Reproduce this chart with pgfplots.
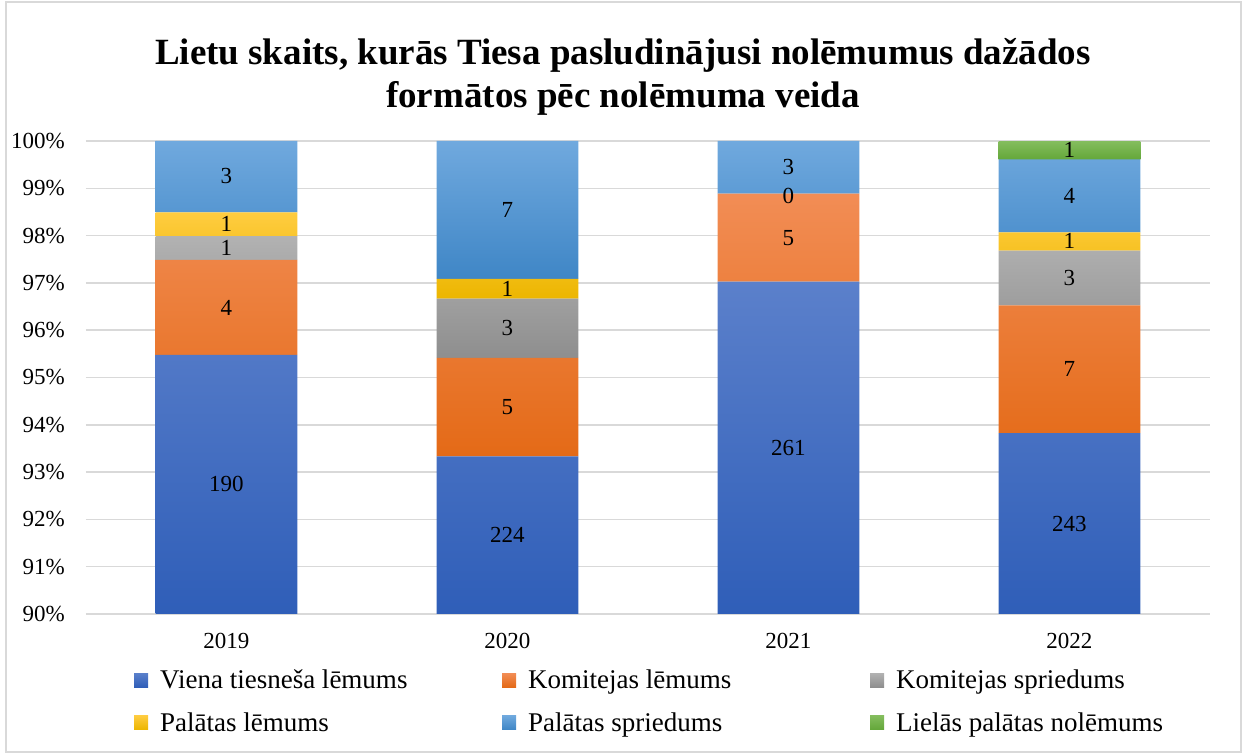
\documentclass[border=0pt]{standalone}
\usepackage{pgfplots}
\pgfplotsset{compat=1.18}
\usepackage{pgfplotstable}
\usepackage{fontspec}
\setmainfont{Liberation Serif}

\definecolor{bluetop}{HTML}{5B80CB}
\definecolor{bluebot}{HTML}{2F5EB8}
\definecolor{orangetop}{HTML}{F28D55}
\definecolor{orangebot}{HTML}{E46A17}
\definecolor{graytop}{HTML}{B2B2B2}
\definecolor{graybot}{HTML}{8E8E8E}
\definecolor{yellowtop}{HTML}{FFCC40}
\definecolor{yellowbot}{HTML}{ECB600}
\definecolor{lbluetop}{HTML}{70A9DE}
\definecolor{lbluebot}{HTML}{3F86C6}
\definecolor{greentop}{HTML}{84BD5E}
\definecolor{greenbot}{HTML}{64A73A}
\definecolor{gridgray}{HTML}{D9D9D9}

% shares of the yearly totals (%), counts: 2019: 190 4 1 1 3 0 | 2020: 224 5 3 1 7 0 | 2021: 261 5 0 0 3 0 | 2022: 243 7 3 1 4 1
\pgfplotstableread{
x base viena komlem komspr pallem palspr liela
0 90 95.477 2.010 0.503 0.503 1.508 0
1 90 93.333 2.083 1.250 0.417 2.917 0
2 90 97.026 1.859 0     0     1.115 0
3 90 93.822 2.703 1.158 0.386 1.544 0.386
}\shares

\pgfplotstableread{
x y label
0 92.74 190
0 96.48 4
0 97.74 1
0 98.24 1
0 99.25 3
1 91.67 224
1 94.375 5
1 96.04 3
1 96.875 1
1 98.54 7
2 93.51 261
2 97.955 5
2 98.84 0
2 99.44 3
3 91.91 243
3 95.17 7
3 97.10 3
3 97.88 1
3 98.84 4
3 99.81 1
}\labels

\newcommand{\legtext}[1]{\makebox[354pt][l]{\hspace{12pt}#1}}

\begin{document}
\begin{tikzpicture}[x=1pt,y=1pt,font=\fontsize{23}{27}\selectfont]
\path[use as bounding box] (0,0) rectangle (1245,754);
\draw[gridgray, line width=1.5pt] (6,2) rectangle (1241,752);
\node[font=\bfseries\fontsize{37}{43}\selectfont, align=center] at (623,677)
  {Lietu skaits, kurās Tiesa pasludinājusi nolēmumus dažādos\\formātos pēc nolēmuma veida};

\begin{axis}[
  at={(86pt,140pt)}, anchor=south west,
  scale only axis, width=1124pt, height=473pt,
  ybar stacked, bar width=0.505,
  xmin=-0.5, xmax=3.5, ymin=90, ymax=100,
  xtick=data, xticklabels={2019,2020,2021,2022},
  ytick={90,91,...,100},
  yticklabel={\pgfmathprintnumber{\tick}\%},
  /pgf/number format/assume math mode=true,
  ymajorgrids, grid style={gridgray, line width=1.5pt},
  axis line style={draw=none}, tick style={draw=none},
  yticklabel style={anchor=east, inner sep=0pt, xshift=-21pt},
  xticklabel style={anchor=north, inner sep=0pt, yshift=-19pt},
  clip=true,
  legend columns=3,
  legend style={at={(0.0427,-0.118)}, anchor=north west, draw=none, fill=none,
    inner sep=0pt, nodes={inner sep=0pt}, row sep=22pt, column sep=0pt,
    font=\fontsize{27}{32}\selectfont},
  legend cell align=left,
  legend image code/.code={\path[#1] (0pt,-7pt) rectangle (14pt,7pt);},
]
\addplot[draw=none, fill=none, forget plot] table[x=x, y=base] {\shares};
\addplot[draw=none, shading=axis, top color=bluetop, bottom color=bluebot] table[x=x, y expr=\thisrow{viena}-90] {\shares};
\addlegendentry{\legtext{Viena tiesneša lēmums}}
\addplot[draw=none, top color=orangetop, bottom color=orangebot] table[x=x, y=komlem] {\shares};
\addlegendentry{\legtext{Komitejas lēmums}}
\addplot[draw=none, top color=graytop, bottom color=graybot] table[x=x, y=komspr] {\shares};
\addlegendentry{\legtext{Komitejas spriedums}}
\addplot[draw=none, top color=yellowtop, bottom color=yellowbot] table[x=x, y=pallem] {\shares};
\addlegendentry{\legtext{Palātas lēmums}}
\addplot[draw=none, top color=lbluetop, bottom color=lbluebot] table[x=x, y=palspr] {\shares};
\addlegendentry{\legtext{Palātas spriedums}}
\addplot[draw=none, top color=greentop, bottom color=greenbot] table[x=x, y=liela] {\shares};
\addlegendentry{\legtext{Lielās palātas nolēmums}}
\end{axis}

\begin{axis}[
  at={(86pt,140pt)}, anchor=south west,
  scale only axis, width=1124pt, height=473pt,
  xmin=-0.5, xmax=3.5, ymin=90, ymax=100,
  hide axis, clip=false,
]
\addplot[only marks, mark=none, point meta=explicit symbolic,
  nodes near coords, nodes near coords align={center},
  every node near coord/.append style={anchor=center, font=\fontsize{23}{27}\selectfont, inner sep=0pt}]
  table[x=x, y=y, meta=label] {\labels};
\end{axis}
\end{tikzpicture}
\end{document}
